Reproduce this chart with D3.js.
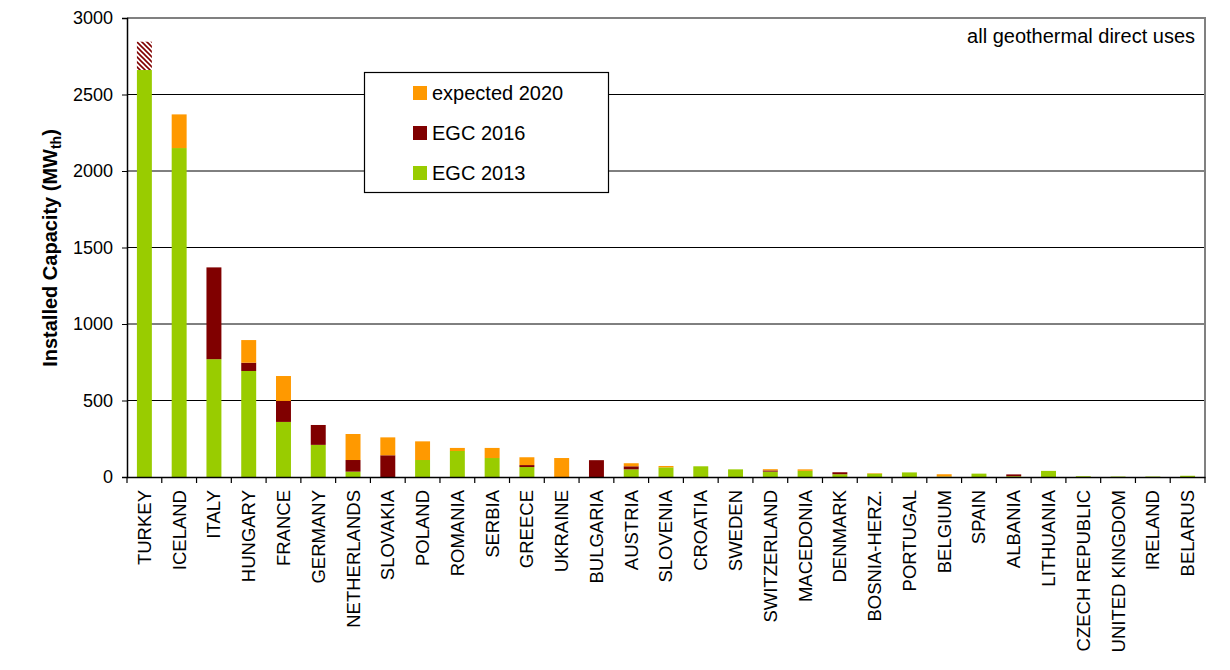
<!DOCTYPE html>
<html>
<head>
<meta charset="utf-8">
<script src="https://cdn.jsdelivr.net/npm/d3@7"></script>
<style>
  html, body { margin: 0; padding: 0; background: #fff; }
  svg { display: block; font-family: "Liberation Sans", Arial, sans-serif; }
</style>
</head>
<body>
<svg id="chart" width="1230" height="670"></svg>
<script>
const countries = ["TURKEY","ICELAND","ITALY","HUNGARY","FRANCE","GERMANY","NETHERLANDS","SLOVAKIA","POLAND","ROMANIA","SERBIA","GREECE","UKRAINE","BULGARIA","AUSTRIA","SLOVENIA","CROATIA","SWEDEN","SWITZERLAND","MACEDONIA","DENMARK","BOSNIA-HERZ.","PORTUGAL","BELGIUM","SPAIN","ALBANIA","LITHUANIA","CZECH REPUBLIC","UNITED KINGDOM","IRELAND","BELARUS"];
// EGC 2013 installed capacity (MWth)
const egc2013 = [2660,2150,770,693,360,210,35,0,111,170,124,65,0,0,50,63,70,50,35,40,18,22,30,3,22,5,40,5,3,3,8];
// increase reported at EGC 2016 (MWth)
const egc2016 = [185,0,600,54,137,130,76,142,0,0,0,13,0,110,20,0,0,0,8,0,13,0,0,0,0,12,0,0,0,0,0];
// further increase expected by 2020 (MWth)
const expected2020 = [0,220,0,148,163,0,170,117,122,20,66,51,124,0,20,9,0,0,8,10,0,3,0,15,0,0,0,0,0,0,0];
// countries whose 2016 segment is shown hatched
const hatched = ["TURKEY"];
const yTicks = [0,500,1000,1500,2000,2500,3000];
const seriesNames = ["EGC 2013","EGC 2016","expected 2020"];
const legendOrder = ["expected 2020","EGC 2016","EGC 2013"];
const colors = {"EGC 2013":"#99cc00","EGC 2016":"#800000","expected 2020":"#ff9900"};

const rows = countries.map((c,i)=>({country:c,"EGC 2013":egc2013[i],"EGC 2016":egc2016[i],"expected 2020":expected2020[i]}));

const svg = d3.select("#chart");
const L = 127, R = 1205, T = 18, B = 477;

const defs = svg.append("defs");
const pat = defs.append("pattern").attr("id","hatch").attr("patternUnits","userSpaceOnUse")
  .attr("width",5).attr("height",5);
pat.append("rect").attr("width",5).attr("height",5).attr("fill","#fff");
pat.append("path").attr("d","M0,0 L5,5 M-1,4 L1,6 M4,-1 L6,1")
  .attr("stroke","#800000").attr("stroke-width",1.6);

const x = d3.scaleBand().domain(countries).range([L,R]).paddingInner(0.57).paddingOuter(0.285);
const y = d3.scaleLinear().domain([0,3000]).range([B,T]);

// gridlines
svg.append("g").selectAll("line").data(yTicks.filter(d=>d>0 && d<3000)).join("line")
  .attr("x1",L).attr("x2",R).attr("y1",d=>y(d)).attr("y2",d=>y(d))
  .attr("stroke","#000").attr("stroke-width",1);

// plot frame (top, right)
svg.append("path").attr("d",`M${L},${T}H${R}V${B}`).attr("fill","none").attr("stroke","#808080").attr("stroke-width",2);

// bars
const stack = d3.stack().keys(seriesNames)(rows);
svg.append("g").selectAll("g").data(stack).join("g")
  .each(function(s){
    d3.select(this).selectAll("rect").data(s.filter(d=>d[1]-d[0]>0)).join("rect")
      .attr("x",d=>x(d.data.country))
      .attr("width",x.bandwidth())
      .attr("y",d=>y(d[1]))
      .attr("height",d=>y(d[0])-y(d[1]))
      .attr("fill",d=> (s.key==="EGC 2016" && hatched.includes(d.data.country)) ? "url(#hatch)" : colors[s.key]);
  });

// y axis
const yAxis = svg.append("g").attr("transform",`translate(${L},0)`)
  .call(d3.axisLeft(y).tickValues(yTicks).tickSize(5).tickPadding(9).tickFormat(d3.format("d")));
yAxis.select(".domain").attr("stroke","#000").attr("stroke-width",1.5);
yAxis.selectAll(".tick line").attr("stroke","#000");
yAxis.selectAll("text").attr("font-size",18).attr("fill","#000").attr("font-family","Liberation Sans, Arial, sans-serif");

// x axis: labels at band centres, ticks at band boundaries
const xAxis = svg.append("g").attr("transform",`translate(0,${B})`)
  .call(d3.axisBottom(x).tickSize(0).tickSizeOuter(0).tickPadding(0));
xAxis.select(".domain").attr("stroke","#000").attr("stroke-width",1.5);
xAxis.selectAll(".tick text")
  .attr("font-size",18.5).attr("fill","#000").attr("font-family","Liberation Sans, Arial, sans-serif")
  .attr("text-anchor","end").attr("dy","0.35em")
  .attr("transform","rotate(-90)").attr("x",-13).attr("y",0);
const step = x.step();
svg.append("g").selectAll("line").data(d3.range(countries.length+1)).join("line")
  .attr("x1",i=>L+i*step).attr("x2",i=>L+i*step).attr("y1",B).attr("y2",B+6)
  .attr("stroke","#000").attr("stroke-width",1.2);

// y title
svg.append("text").attr("transform","translate(57,248) rotate(-90)")
  .attr("text-anchor","middle").attr("font-weight","bold").attr("font-size",20)
  .call(t=>{ t.append("tspan").text("Installed Capacity (MW");
             t.append("tspan").attr("font-size",14).attr("dy",4).text("th");
             t.append("tspan").attr("dy",-4).text(")"); });

// annotation
svg.append("text").attr("x",1195).attr("y",43).attr("text-anchor","end").attr("font-size",20).text("all geothermal direct uses");

// legend
const lg = svg.append("g");
lg.append("rect").attr("x",364.5).attr("y",72.5).attr("width",244).attr("height",120)
  .attr("fill","#fff").attr("stroke","#000").attr("stroke-width",1.2);
legendOrder.forEach((k,i)=>{
  const cy = 93 + i*40;
  lg.append("rect").attr("x",413).attr("y",cy-7).attr("width",14).attr("height",14).attr("fill",colors[k]);
  lg.append("text").attr("x",432).attr("y",cy+7).attr("font-size",20).text(k);
});
</script>
</body>
</html>
